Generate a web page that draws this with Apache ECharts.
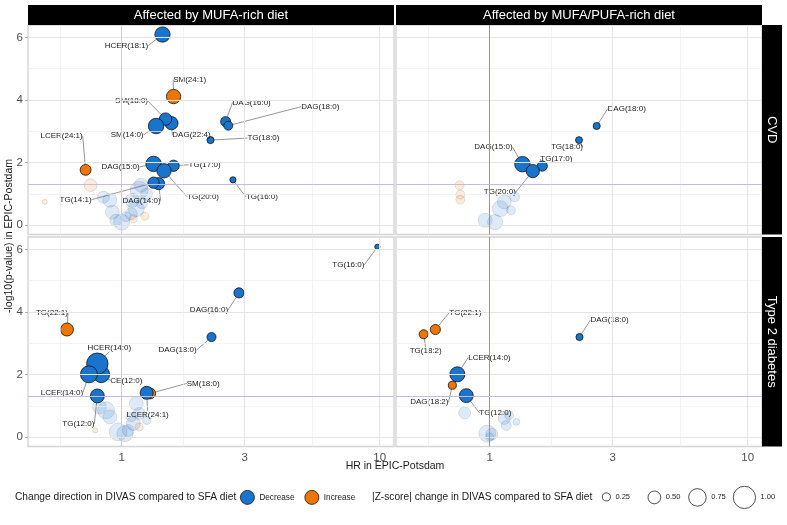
<!DOCTYPE html>
<html><head><meta charset="utf-8">
<script src="https://cdn.jsdelivr.net/npm/echarts@6/dist/echarts.min.js"></script>
<style>html,body{margin:0;padding:0;background:#fff}#c{width:787px;height:525px}</style>
</head><body><div id="c"></div>
<script>
const FONT = '"Liberation Sans", Arial, Helvetica, sans-serif';
const facetCols = ['Affected by MUFA-rich diet', 'Affected by MUFA/PUFA-rich diet'];
const facetRows = ['CVD', 'Type 2 diabetes'];
const xBreaks = [1, 3, 10];
const yBreaks = [0, 2, 4, 6];
const sizeBreaks = [0.25, 0.5, 0.75, 1.0];
const directions = ['Decrease', 'Increase'];
const pThreshold = 0.05;

// significant lipids: [name, HR, -log10(p), |Z-score|, direction]
const mufaCvdSig = [
  ['HCER(18:1)', 1.44, 6.09, 0.63, 'Decrease'],
  ['SM(24:1)', 1.59, 4.11, 0.58, 'Increase'],
  ['DAG(22:4)', 1.56, 3.26, 0.52, 'Decrease'],
  ['SM(18:0)', 1.48, 3.39, 0.48, 'Decrease'],
  ['SM(14:0)', 1.36, 3.17, 0.64, 'Decrease'],
  ['DAG(16:0)', 2.53, 3.31, 0.35, 'Decrease'],
  ['DAG(18:0)', 2.59, 3.18, 0.30, 'Decrease'],
  ['TG(18:0)', 2.21, 2.72, 0.20, 'Decrease'],
  ['LCER(24:1)', 0.725, 1.77, 0.40, 'Increase'],
  ['TG(17:0)', 1.59, 1.90, 0.42, 'Decrease'],
  ['DAG(15:0)', 1.33, 1.96, 0.64, 'Decrease'],
  ['TG(20:0)', 1.46, 1.74, 0.58, 'Decrease'],
  ['DAG(14:0)', 1.39, 1.33, 0.46, 'Decrease'],
  ['TG(14:1)', 1.33, 1.36, 0.42, 'Decrease'],
  ['TG(16:0)', 2.70, 1.45, 0.15, 'Decrease']
];
const mupuCvdSig = [
  ['DAG(18:0)', 2.60, 3.17, 0.20, 'Decrease'],
  ['TG(18:0)', 2.22, 2.72, 0.19, 'Decrease'],
  ['TG(17:0)', 1.60, 1.89, 0.36, 'Decrease'],
  ['DAG(15:0)', 1.34, 1.95, 0.64, 'Decrease'],
  ['TG(20:0)', 1.47, 1.73, 0.52, 'Decrease']
];
const mufaT2dSig = [
  ['TG(16:0)', 9.8, 6.08, 0.10, 'Decrease'],
  ['DAG(16:0)', 2.85, 4.61, 0.36, 'Decrease'],
  ['DAG(18:0)', 2.23, 3.20, 0.30, 'Decrease'],
  ['TG(22:1)', 0.614, 3.44, 0.51, 'Increase'],
  ['CE(12:0)', 0.834, 2.01, 0.70, 'Decrease'],
  ['HCER(14:0)', 0.805, 2.35, 0.95, 'Decrease'],
  ['LCER(14:0)', 0.747, 2.01, 0.72, 'Decrease'],
  ['TG(12:0)', 0.805, 1.32, 0.56, 'Decrease'],
  ['SM(18:0)', 1.29, 1.40, 0.40, 'Increase'],
  ['LCER(24:1)', 1.25, 1.42, 0.51, 'Decrease']
];
const mupuT2dSig = [
  ['DAG(18:0)', 2.23, 3.20, 0.20, 'Decrease'],
  ['TG(22:1)', 0.616, 3.44, 0.36, 'Increase'],
  ['TG(18:2)', 0.555, 3.29, 0.30, 'Increase'],
  ['LCER(14:0)', 0.75, 2.01, 0.62, 'Decrease'],
  ['DAG(18:2)', 0.717, 1.66, 0.25, 'Increase'],
  ['TG(12:0)', 0.812, 1.33, 0.56, 'Decrease']
];

// non-significant lipids: [HR, -log10(p), |Z-score|, direction]
const mufaCvdNs = [
  [0.758, 1.28, 0.50, 'Increase'], [0.503, 0.75, 0.10, 'Increase'],
  [1.23, 0.29, 0.25, 'Increase'], [1.11, 0.21, 0.25, 'Increase'],
  [0.85, 0.90, 0.46, 'Decrease'], [0.90, 0.80, 0.56, 'Decrease'],
  [0.92, 0.42, 0.56, 'Decrease'], [0.95, 0.16, 0.46, 'Decrease'],
  [1.00, 0.10, 0.67, 'Decrease'], [1.04, 0.27, 0.35, 'Decrease'],
  [1.09, 0.37, 0.46, 'Decrease'], [1.10, 0.80, 0.56, 'Decrease'],
  [1.14, 0.53, 0.67, 'Decrease'], [1.17, 1.12, 0.77, 'Decrease'],
  [1.19, 1.28, 0.56, 'Decrease'], [1.25, 1.00, 0.46, 'Decrease'],
  [1.20, 0.70, 0.40, 'Decrease']
];
const mupuCvdNs = [
  [0.765, 1.28, 0.30, 'Increase'], [0.77, 0.98, 0.30, 'Increase'],
  [0.77, 0.82, 0.30, 'Increase'],
  [0.96, 0.16, 0.56, 'Decrease'], [1.05, 0.10, 0.62, 'Decrease'],
  [1.10, 0.53, 0.67, 'Decrease'], [1.14, 0.75, 0.56, 'Decrease'],
  [1.21, 0.48, 0.30, 'Decrease'], [1.25, 0.91, 0.35, 'Decrease']
];
const mufaT2dNs = [
  [0.79, 0.22, 0.10, 'Increase'], [1.17, 0.33, 0.25, 'Increase'],
  [0.82, 0.97, 0.56, 'Decrease'], [0.87, 0.86, 0.72, 'Decrease'],
  [0.90, 0.65, 0.56, 'Decrease'], [0.97, 0.17, 0.77, 'Decrease'],
  [1.03, 0.12, 0.67, 'Decrease'], [1.06, 0.22, 0.46, 'Decrease'],
  [1.09, 0.65, 0.35, 'Decrease'], [1.11, 0.44, 0.56, 'Decrease'],
  [1.14, 1.08, 0.56, 'Decrease'], [1.17, 0.76, 0.46, 'Decrease'],
  [1.25, 0.54, 0.25, 'Decrease']
];
const mupuT2dNs = [
  [0.80, 0.78, 0.46, 'Decrease'], [0.98, 0.12, 0.72, 'Decrease'],
  [1.02, 0.10, 0.46, 'Decrease'], [1.00, 0.01, 0.25, 'Decrease'],
  [1.14, 0.60, 0.46, 'Decrease'], [1.16, 0.38, 0.35, 'Decrease'],
  [1.27, 0.49, 0.19, 'Decrease'], [1.19, 0.70, 0.30, 'Decrease']
];

// ---- layout / styling (kept apart from the data) ----
const labelNudge = {
  mufaCvd: {'HCER(18:1)':[-36,11],'SM(24:1)':[16,-17],'SM(18:0)':[-34,-18],'SM(14:0)':[-29,9],'DAG(22:4)':[20,12],
    'DAG(16:0)':[26,-19],'DAG(18:0)':[92,-19],'TG(18:0)':[53,-2],'LCER(24:1)':[-24,-34],'DAG(15:0)':[-33,3],
    'TG(17:0)':[31,-1],'TG(20:0)':[39,26],'TG(14:1)':[-78,17],'DAG(14:0)':[-17,17],'TG(16:0)':[29,17]},
  mupuCvd: {'DAG(18:0)':[30,-17],'TG(18:0)':[-12,7],'DAG(15:0)':[-29,-17],'TG(17:0)':[14,-7],'TG(20:0)':[-33,21]},
  mufaT2d: {'TG(16:0)':[-29,18],'DAG(16:0)':[-30,17],'DAG(18:0)':[-34,13],'TG(22:1)':[-15,-17],'HCER(14:0)':[12,-16],
    'CE(12:0)':[25,6],'LCER(14:0)':[-27,18],'TG(12:0)':[-19,28],'SM(18:0)':[53,-10],'LCER(24:1)':[1,22]},
  mupuT2d: {'DAG(18:0)':[30,-17],'TG(22:1)':[30,-17],'TG(18:2)':[2,17],'LCER(14:0)':[32,-17],'DAG(18:2)':[-23,17],'TG(12:0)':[29,17]}
};
const COLORS = {Decrease: '#1874CD', Increase: '#EE7600'};
const sizeOf = z => 3.3 + 19 * z;

const GL = [28, 396], GW = [366, 366], GT = [25, 237], GH = [209.5, 209.5];
const panels = [
  {key: 'mufaCvd', sig: mufaCvdSig, ns: mufaCvdNs, col: 0, row: 0},
  {key: 'mupuCvd', sig: mupuCvdSig, ns: mupuCvdNs, col: 1, row: 0},
  {key: 'mufaT2d', sig: mufaT2dSig, ns: mufaT2dNs, col: 0, row: 1},
  {key: 'mupuT2d', sig: mupuT2dSig, ns: mupuT2dNs, col: 1, row: 1}
];

// ggplot-like limits: data range in transformed space + 5% expansion
const allRows = panels.flatMap(p => p.sig.map(r => [r[1], r[2]]).concat(p.ns.map(r => [r[0], r[1]])));
const lx = allRows.map(r => Math.log10(r[0])), ly = allRows.map(r => r[1]);
const lxMin = Math.min(...lx), lxMax = Math.max(...lx), yMin = Math.min(...ly), yMax = Math.max(...ly);
const ex = (lxMax - lxMin) * 0.05, ey = (yMax - yMin) * 0.05;
const X_MIN = Math.pow(10, lxMin - ex), X_MAX = Math.pow(10, lxMax + ex);
const Y_MIN = yMin - ey, Y_MAX = yMax + ey;

// minor breaks: midpoints (in transformed space) between the major breaks
const lb = xBreaks.map(Math.log10);
const xMinor = [lb[0] - (lb[1] - lb[0]) / 2].concat(lb.slice(1).map((v, i) => (v + lb[i]) / 2)).map(v => Math.pow(10, v));
const yMinor = yBreaks.slice(1).map((v, i) => (v + yBreaks[i]) / 2);

const grids = [], xAxes = [], yAxes = [], series = [];
panels.forEach((p, gi) => {
  grids.push({left: GL[p.col], top: GT[p.row], width: GW[p.col], height: GH[p.row],
    show: true, borderColor: '#d4d4d4', borderWidth: 1.4, backgroundColor: '#fff'});
  const bottom = p.row === 1, left = p.col === 0;
  xAxes.push({type: 'log', logBase: 10, gridIndex: gi, min: X_MIN, max: X_MAX,
    axisLine: {show: false}, splitLine: {show: false},
    axisTick: {show: bottom, customValues: xBreaks, length: 3, lineStyle: {color: '#b0b0b0', width: 1}},
    axisLabel: {show: bottom, customValues: xBreaks, margin: 5, color: '#4d4d4d', fontSize: 11.5, fontFamily: FONT,
      formatter: v => String(Math.round(v * 1000) / 1000)}});
  yAxes.push({type: 'value', gridIndex: gi, min: Y_MIN, max: Y_MAX,
    axisLine: {show: false}, splitLine: {show: false},
    axisTick: {show: left, customValues: yBreaks, length: 3, lineStyle: {color: '#b0b0b0', width: 1}},
    axisLabel: {show: left, customValues: yBreaks, margin: 5, color: '#4d4d4d', fontSize: 11.5, fontFamily: FONT}});

  const gl = (c, w) => ({color: c, width: w, type: 'solid'});
  series.push({type: 'scatter', name: 'grid' + gi, xAxisIndex: gi, yAxisIndex: gi, data: [], z: 1, silent: true,
    markLine: {silent: true, symbol: ['none', 'none'], label: {show: false}, animation: false,
      data: xMinor.map(v => ({xAxis: v, lineStyle: gl('#eeeeee', 0.7)}))
        .concat(yMinor.map(v => ({yAxis: v, lineStyle: gl('#eeeeee', 0.7)})))
        .concat(xBreaks.map(v => ({xAxis: v, lineStyle: gl('#e4e4e4', 1)})))
        .concat(yBreaks.map(v => ({yAxis: v, lineStyle: gl('#e4e4e4', 1)})))}});

  series.push({type: 'scatter', name: 'ns' + gi, xAxisIndex: gi, yAxisIndex: gi, z: 2, silent: true,
    symbolSize: v => sizeOf(v[2]),
    data: p.ns.map(r => ({value: [r[0], r[1], r[2]], itemStyle: {color: COLORS[r[3]], opacity: 0.15}})),
    itemStyle: {opacity: 0.15, borderColor: '#000', borderWidth: 0.7}});

  series.push({type: 'scatter', name: 'ref' + gi, xAxisIndex: gi, yAxisIndex: gi, data: [], z: 3, silent: true,
    markLine: {silent: true, symbol: ['none', 'none'], label: {show: false}, animation: false,
      data: [{xAxis: 1, lineStyle: {color: p.col === 0 ? '#d3c6e6' : '#9b8cbf', width: 1, type: 'solid'}},
             {yAxis: -Math.log10(pThreshold), lineStyle: {color: '#c9b8df', width: 1, type: 'solid'}}]}});

  const nudge = labelNudge[p.key];
  series.push({type: 'scatter', name: 'sig' + gi, xAxisIndex: gi, yAxisIndex: gi, z: 4, silent: true,
    symbolSize: v => sizeOf(v[2]),
    data: p.sig.map(r => ({name: r[0], value: [r[1], r[2], r[3]],
      itemStyle: {color: COLORS[r[4]], opacity: 1, borderColor: '#111', borderWidth: 0.8}})),
    itemStyle: {opacity: 1, borderColor: '#111', borderWidth: 0.8},
    label: {show: true, position: 'inside', formatter: '{b}', fontSize: 8, color: '#1a1a1a', fontFamily: FONT},
    labelLine: {show: true, length2: 0, smooth: false, lineStyle: {color: '#4d4d4d', width: 0.6}},
    labelLayout: params => {
      const n = nudge[params.text] || [0, 0];
      return {dx: n[0], dy: n[1]};
    }});
});

// legend helper series (no data)
directions.forEach(d => series.push({type: 'scatter', name: d, data: [], itemStyle: {color: COLORS[d], opacity: 1}}));
sizeBreaks.forEach(s => series.push({type: 'scatter', name: s.toFixed(2), data: [], itemStyle: {color: '#fff', opacity: 1}}));

const LEG_Y = 497;
const legends = [{
  data: directions.map(d => ({name: d, itemStyle: {color: COLORS[d], opacity: 1, borderColor: '#111', borderWidth: 0.8}})),
  icon: 'circle', left: 240, top: LEG_Y - 7, padding: 0, itemWidth: 14, itemHeight: 14, itemGap: 10,
  selectedMode: false, textStyle: {fontSize: 8.2, color: '#1a1a1a', fontFamily: FONT}
}];
const sizeCenters = [606, 654, 697, 744];
sizeBreaks.forEach((s, i) => {
  const d = sizeOf(s);
  legends.push({data: [{name: s.toFixed(2), itemStyle: {color: '#fff', opacity: 1, borderColor: '#222', borderWidth: 0.8}}],
    icon: 'circle', left: sizeCenters[i] - d / 2, top: LEG_Y - Math.max(d, 9) / 2, padding: 0,
    itemWidth: d, itemHeight: d, selectedMode: false,
    textStyle: {fontSize: 7.5, color: '#1a1a1a', fontFamily: FONT}});
});

const graphics = [];
facetCols.forEach((t, c) => {
  graphics.push({type: 'rect', shape: {x: GL[c], y: 5, width: GW[c], height: 20}, style: {fill: '#000'}, silent: true});
  graphics.push({type: 'text', x: GL[c] + GW[c] / 2, y: 15, silent: true,
    style: {text: t, fill: '#fff', font: '13px ' + FONT, align: 'center', verticalAlign: 'middle',
      textAlign: 'center', textVerticalAlign: 'middle'}});
});
facetRows.forEach((t, r) => {
  const x0 = GL[1] + GW[1];
  graphics.push({type: 'rect', shape: {x: x0, y: GT[r], width: 20, height: GH[r]}, style: {fill: '#000'}, silent: true});
  graphics.push({type: 'text', x: x0 + 10, y: GT[r] + GH[r] / 2, rotation: -Math.PI / 2, silent: true,
    style: {text: t, fill: '#fff', font: '13px ' + FONT, align: 'center', verticalAlign: 'middle',
      textAlign: 'center', textVerticalAlign: 'middle'}});
});
graphics.push({type: 'text', x: 9, y: 236, rotation: Math.PI / 2, silent: true,
  style: {text: '-log10(p-value) in EPIC-Postdam', fill: '#1a1a1a', font: '10.5px ' + FONT, align: 'center',
    verticalAlign: 'middle', textAlign: 'center', textVerticalAlign: 'middle'}});
graphics.push({type: 'text', x: 395, y: 466, silent: true,
  style: {text: 'HR in EPIC-Potsdam', fill: '#1a1a1a', font: '10.5px ' + FONT, align: 'center',
    verticalAlign: 'middle', textAlign: 'center', textVerticalAlign: 'middle'}});
graphics.push({type: 'text', x: 15, y: LEG_Y, silent: true,
  style: {text: 'Change direction in DIVAS compared to SFA diet', fill: '#1a1a1a', font: '10.2px ' + FONT,
    align: 'left', verticalAlign: 'middle', textAlign: 'left', textVerticalAlign: 'middle'}});
graphics.push({type: 'text', x: 372, y: LEG_Y, silent: true,
  style: {text: '|Z-score| change in DIVAS compared to SFA diet', fill: '#1a1a1a', font: '10.2px ' + FONT,
    align: 'left', verticalAlign: 'middle', textAlign: 'left', textVerticalAlign: 'middle'}});

const chart = echarts.init(document.getElementById('c'), null, {renderer: 'canvas'});
chart.setOption({
  animation: false,
  backgroundColor: '#fff',
  textStyle: {fontFamily: FONT},
  grid: grids, xAxis: xAxes, yAxis: yAxes,
  legend: legends,
  series: series,
  graphic: graphics
});
</script></body></html>
